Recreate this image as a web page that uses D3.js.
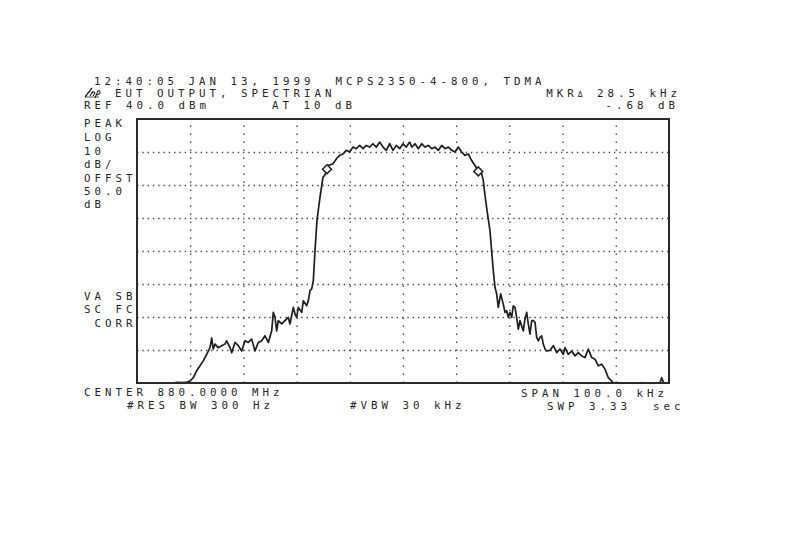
<!DOCTYPE html>
<html>
<head>
<meta charset="utf-8">
<script src="https://cdn.jsdelivr.net/npm/d3@7"></script>
<style>
  html, body { margin: 0; padding: 0; background: #fff; }
  svg { display: block; }
  .lbl { font-family: "DejaVu Sans Mono", monospace; font-size: 10.8px; letter-spacing: 4px; fill: #262626; }
</style>
</head>
<body>
<svg id="chart" width="792" height="536"></svg>
<script>
// ---- data ----
const centerMHz = 880.0;
const spanKHz = 100;
const refLevelDBm = 40;
const dbPerDiv = 10;
const xTickKHz = [-40, -30, -20, -10, 0, 10, 20, 30, 40];
const yTickDBm = [-30, -20, -10, 0, 10, 20, 30];

const freqKHz = [
  -50, -46, -43.2, -42.5, -41.5, -40.6, -40.04, -39.42, -38.78, -38.16,
  -37.54, -36.90, -36.28, -35.96, -35.66, -35.34, -34.72, -34.08, -33.46, -33.14,
  -32.52, -32.20, -31.58, -30.96, -30.32, -29.70, -29.08, -28.44, -27.82, -27.20,
  -26.56, -25.94, -25.32, -24.68, -24.38, -24.06, -23.74, -23.44, -22.80, -22.18,
  -21.56, -21.24, -20.62, -20.30, -19.98, -19.68, -19.04, -18.74, -18.10, -17.80,
  -17.48, -17.16, -16.86, -16.54, -16.17, -15.60, -15.04, -14.72, -14.29, -14.10,
  -13.16, -12.54, -11.90, -11.28, -10.66, -10.02, -9.40, -8.78, -8.14, -7.52,
  -6.90, -6.26, -5.64, -5.02, -4.38, -3.76, -3.14, -2.50, -1.88, -1.26,
  -0.62, 0.00, 0.62, 1.26, 1.64, 2.26, 2.88, 3.52, 4.14, 4.76,
  5.40, 6.02, 6.64, 7.27, 7.89, 8.52, 9.15, 9.77, 10.39, 11.03,
  11.65, 12.27, 12.91, 13.53, 14.15, 14.79, 15.09, 15.41, 15.79, 16.35,
  16.73, 16.97, 17.29, 17.61, 17.91, 18.36, 18.85, 19.17, 19.49, 19.79,
  20.11, 20.43, 20.73, 21.05, 21.37, 21.67, 21.99, 22.31, 22.61, 22.93,
  23.25, 23.55, 23.87, 24.19, 24.49, 24.81, 25.13, 25.43, 25.75, 26.07,
  26.37, 26.69, 27.01, 27.63, 28.25, 28.89, 29.51, 30.13, 30.45, 31.07,
  31.71, 32.33, 32.95, 33.59, 34.21, 34.83, 35.47, 36.09, 36.71, 37.35,
  37.97, 38.59, 39.23, 39.53, 40.5, 44.5, 44.87, 45.2, 48.3, 48.63,
  49.0, 50
];
const levelDBm = [
  -41, -41, -41, -39.8, -39.9, -39.7, -39.4, -38.4, -36.3, -34.8,
  -33.3, -31.3, -29.3, -26.4, -29.7, -28.2, -29.3, -28.7, -28.2, -27.2,
  -29.3, -30.8, -27.7, -28.7, -30.3, -27.2, -27.7, -26.7, -30.3, -27.7,
  -27.2, -25.7, -27.7, -24.2, -18.6, -20.1, -24.2, -21.1, -22.1, -21.1,
  -20.1, -22.1, -17.1, -19.1, -20.1, -17.1, -18.6, -15.1, -16.6, -15.1,
  -12.0, -11.5, -9.0, 0.2, 9.3, 16.3, 22.4, 22.9, 24.8, 25.9,
  26.4, 27.9, 29.0, 29.4, 30.5, 30.0, 31.5, 31.0, 32.0, 31.0,
  32.0, 31.5, 32.5, 31.5, 33.0, 31.5, 30.5, 32.5, 30.5, 32.0,
  31.0, 32.5, 31.5, 33.0, 31.5, 32.5, 31.0, 32.5, 31.5, 32.0,
  31.0, 31.5, 30.5, 32.0, 31.0, 31.5, 30.5, 30.0, 31.5, 30.0,
  29.0, 29.4, 27.4, 25.9, 24.1, 23.4, 21.4, 16.9, 12.3, 6.2,
  -1.4, -5.9, -11.0, -13.0, -17.1, -13.0, -16.1, -18.6, -18.1, -20.1,
  -18.6, -20.1, -16.6, -17.1, -20.1, -23.7, -21.1, -22.7, -24.2, -20.6,
  -18.6, -22.1, -25.2, -21.1, -21.1, -21.6, -26.2, -27.2, -26.2, -25.7,
  -28.2, -29.7, -30.3, -30.1, -28.7, -30.8, -29.7, -31.3, -29.3, -31.3,
  -30.3, -31.8, -30.8, -31.8, -32.3, -29.7, -32.3, -32.8, -34.8, -34.3,
  -35.8, -38.4, -39.4, -40.4, -41, -41, -39.9, -41, -41, -38.4,
  -41, -41
];
const markerKHz = [-14.29, 14.15];
const markerDBm = [24.8, 24.12];

const headerLines = ["12:40:05 JAN 13, 1999  MCPS2350-4-800, TDMA", "EUT OUTPUT, SPECTRIAN", "REF 40.0 dBm", "AT 10 dB"];
const markerReadout = ["MKR", "\u0394", " 28.5 kHz", "-.68 dB"];
const leftLabels = ["PEAK", "LOG", "10", "dB/", "OFFST", "50.0", "dB"];
const corrLabels = ["VA SB", "SC FC", " CORR"];
const footer = ["CENTER 880.0000 MHz", "#RES BW 300 Hz", "#VBW 30 kHz", "SPAN 100.0 kHz", "SWP 3.33", "sec"];

// ---- layout ----
const svg = d3.select("#chart");
const L = 137, R = 669, T = 119, B = 383;
const x = d3.scaleLinear().domain([-spanKHz / 2, spanKHz / 2]).range([L, R]);
const y = d3.scaleLinear().domain([refLevelDBm - 8 * dbPerDiv, refLevelDBm]).range([B, T]).clamp(true);

svg.append("rect").attr("width", 792).attr("height", 536).attr("fill", "#fff");

// grid via axes
const gx = svg.append("g").attr("transform", `translate(0,${B})`)
  .call(d3.axisBottom(x).tickValues(xTickKHz).tickSize(-(B - T)).tickFormat(""));
gx.select(".domain").remove();
gx.selectAll("line").attr("stroke", "#444").attr("stroke-width", 1.3).attr("stroke-dasharray", "1.4,6.6");

const gy = svg.append("g").attr("transform", `translate(${L},0)`)
  .call(d3.axisLeft(y).tickValues(yTickDBm).tickSize(-(R - L)).tickFormat(""));
gy.select(".domain").remove();
gy.selectAll("line").attr("stroke", "#444").attr("stroke-width", 1.3).attr("stroke-dasharray", "1.4,3.9");

// trace
const pts = freqKHz.map((f, i) => [f, levelDBm[i]]);
svg.append("path")
  .datum(pts)
  .attr("fill", "none")
  .attr("stroke", "#1e1e1e")
  .attr("stroke-width", 1.7)
  .attr("stroke-linejoin", "round")
  .attr("d", d3.line().x(d => x(d[0])).y(d => y(d[1])));

// frame
svg.append("rect").attr("x", L).attr("y", T).attr("width", R - L).attr("height", B - T)
  .attr("fill", "none").attr("stroke", "#2a2a2a").attr("stroke-width", 2);

// markers
const sym = d3.symbol().type(d3.symbolSquare).size(40);
markerKHz.forEach((f, i) => {
  svg.append("path").attr("d", sym())
    .attr("transform", `translate(${x(f)},${y(markerDBm[i])}) rotate(45)`)
    .attr("fill", "#fff").attr("stroke", "#222").attr("stroke-width", 1.5);
});

// text helpers
function txt(s, tx, ty, anchor) {
  return svg.append("text").attr("class", "lbl").attr("x", tx).attr("y", ty)
    .attr("text-anchor", anchor || "start").attr("xml:space", "preserve").style("white-space", "pre").text(s);
}

txt(headerLines[0], 94, 85);
// hp logo (graphic)
const logo = svg.append("g").attr("transform", "translate(85,96)");
logo.append("path").attr("d", "M0,1 L7,-8").attr("stroke", "#262626").attr("stroke-width", 1.3).attr("fill", "none");
logo.append("path").attr("d", "M5,0 L8,-5 M7,-3 Q9,-5 10,-3 L8,0 M10,2 L13,-5 Q15,-6 15,-3 Q14,-1 11,-1")
  .attr("stroke", "#262626").attr("stroke-width", 1.1).attr("fill", "none");
logo.append("path").attr("d", "M0,1 L14,1").attr("stroke", "#262626").attr("stroke-width", 0.8);
txt(headerLines[1], 115, 97);
txt(headerLines[2], 84, 109);
txt(headerLines[3], 272, 109);

const mk = txt("", 681, 97, "end");
mk.append("tspan").text(markerReadout[0]);
mk.append("tspan").attr("font-size", 8).text(markerReadout[1]);
mk.append("tspan").text(markerReadout[2]);
txt(markerReadout[3], 679, 109, "end");

const leftY = [127, 141, 155, 168, 182, 195, 208];
leftLabels.forEach((s, i) => txt(s, 84, leftY[i]));
const corrY = [300, 313, 327];
corrLabels.forEach((s, i) => txt(s, 84, corrY[i]));

txt(footer[0], 84, 396);
txt(footer[1], 127, 409);
txt(footer[2], 350, 409);
txt(footer[3], 521, 397);
txt(footer[4], 547, 410);
txt(footer[5], 653, 410);
</script>
</body>
</html>
